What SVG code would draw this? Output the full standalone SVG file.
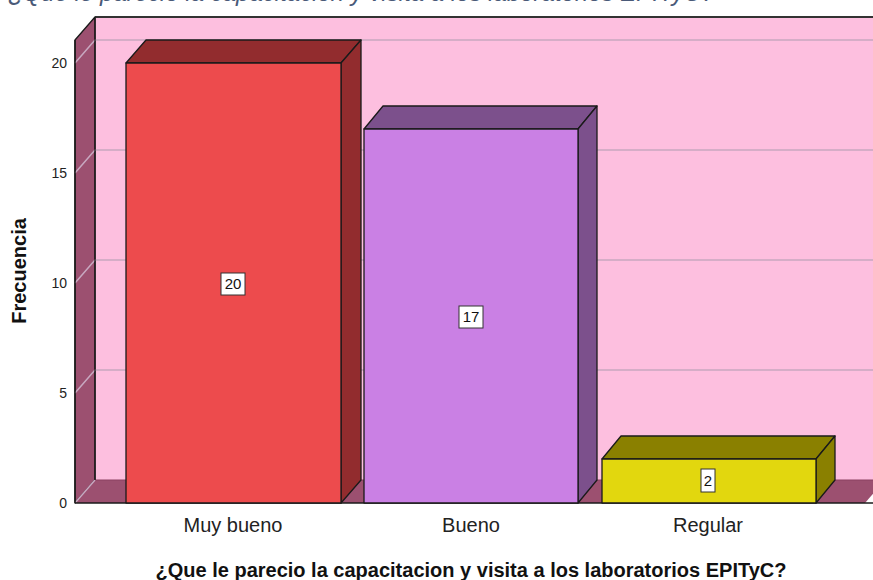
<svg xmlns="http://www.w3.org/2000/svg" width="873" height="580" viewBox="0 0 873 580">
<style>
.edge{stroke:#1a1a1a;stroke-width:1.3;stroke-linejoin:round}
.grid{stroke:#c8a8c0;stroke-width:1.5;fill:none}
.tick{font-family:"Liberation Sans",Arial,sans-serif;font-size:14px;fill:#222;text-anchor:end}
.cat{font-family:"Liberation Sans",Arial,sans-serif;font-size:20px;fill:#222;text-anchor:middle}
.val{font-family:"Liberation Sans",Arial,sans-serif;font-size:15px;fill:#111;text-anchor:middle}
.vbox{fill:#fff;stroke:#333;stroke-width:1}
.axt{font-family:"Liberation Sans",Arial,sans-serif;font-size:20px;font-weight:bold;fill:#111;text-anchor:middle}
</style>
<rect width="873" height="580" fill="#fff"/>
<text x="8" y="1" font-family="'Liberation Sans',Arial,sans-serif" font-size="24" font-style="italic" fill="#4a5a78">¿Que le parecio la capacitacion y visita a los laboratorios EPITyC?</text>
<g id="frame">
<rect x="95" y="17" width="790" height="463" fill="#fdbfdf"/>
<polygon points="75,40 95,17 95,480 75,503" fill="#9c5070" class="edge"/>
<polygon points="75,503 95,480 885,480 865,503" fill="#9c5070"/>
<line x1="95" y1="480" x2="885" y2="480" stroke="#8a4060" stroke-width="1"/>
<path class="grid" d="M75,63 L95,40 H873 M75,173 L95,150 H873 M75,283 L95,260 H873 M75,393 L95,370 H873 M75,503 L95,480"/>
<line x1="95" y1="17" x2="873" y2="17" stroke="#333" stroke-width="2"/>
<line x1="95" y1="17" x2="95" y2="480" stroke="#1a1a1a" stroke-width="1.3"/>
<line x1="75" y1="503" x2="873" y2="503" stroke="#1a1a1a" stroke-width="1.5"/>
<line x1="75" y1="40" x2="75" y2="503" stroke="#1a1a1a" stroke-width="1.5"/>
</g>
<g id="yaxis">
<text class="tick" x="67" y="68">20</text>
<text class="tick" x="67" y="178">15</text>
<text class="tick" x="67" y="288">10</text>
<text class="tick" x="67" y="398">5</text>
<text class="tick" x="67" y="508">0</text>
<text class="axt" transform="translate(26,271) rotate(-90)">Frecuencia</text>
</g>
<g id="bar-muy-bueno">
<polygon class="edge" points="126,63 146,40 361,40 341,63" fill="#922c2e"/>
<polygon class="edge" points="341,63 361,40 361,480 341,503" fill="#922c2e"/>
<rect class="edge" x="126" y="63" width="215" height="440" fill="#ed4b4d"/>
<rect class="vbox" x="221" y="273" width="24" height="22"/>
<text class="val" x="233" y="289">20</text>
<text class="cat" x="233" y="532">Muy bueno</text>
</g>
<g id="bar-bueno">
<polygon class="edge" points="364,129 383,106 597,106 578,129" fill="#7c508c"/>
<polygon class="edge" points="578,129 597,106 597,480 578,503" fill="#7c508c"/>
<rect class="edge" x="364" y="129" width="214" height="374" fill="#ca80e4"/>
<rect class="vbox" x="459" y="306" width="24" height="22"/>
<text class="val" x="471" y="322">17</text>
<text class="cat" x="471" y="532">Bueno</text>
</g>
<g id="bar-regular">
<polygon class="edge" points="602,459 621,436 835,436 816,459" fill="#8a8000"/>
<polygon class="edge" points="816,459 835,436 835,480 816,503" fill="#8a8000"/>
<rect class="edge" x="602" y="459" width="214" height="44" fill="#e2d70e"/>
<rect class="vbox" x="701" y="469" width="14" height="23"/>
<text class="val" x="708" y="486">2</text>
<text class="cat" x="708" y="532">Regular</text>
</g>
<g id="connectors"></g>
<text class="axt" x="471" y="577">¿Que le parecio la capacitacion y visita a los laboratorios EPITyC?</text>
</svg>
